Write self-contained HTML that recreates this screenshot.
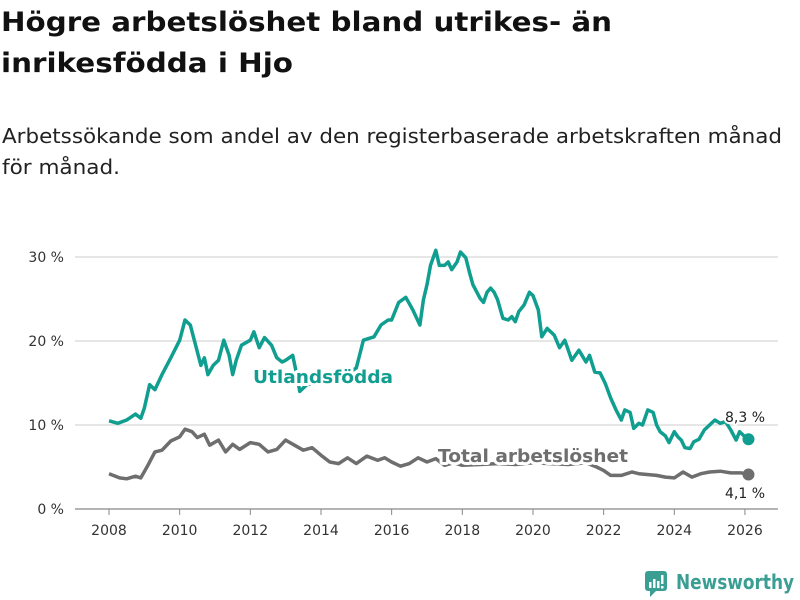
<!DOCTYPE html>
<html><head><meta charset="utf-8"><style>
html,body{margin:0;padding:0;background:#fff;width:800px;height:600px;overflow:hidden;font-family:"DejaVu Sans","Liberation Sans",sans-serif}
</style></head><body>
<svg id="chart" width="800" height="600" xmlns="http://www.w3.org/2000/svg" font-family="DejaVu Sans, Liberation Sans, sans-serif">
<text x="1" y="31" font-size="27" font-weight="bold" fill="#111" textLength="611" lengthAdjust="spacingAndGlyphs">Högre arbetslöshet bland utrikes- än</text>
<text x="1" y="72" font-size="27" font-weight="bold" fill="#111" textLength="292" lengthAdjust="spacingAndGlyphs">inrikesfödda i Hjo</text>
<text x="2" y="143" font-size="20" fill="#222" textLength="780" lengthAdjust="spacingAndGlyphs">Arbetssökande som andel av den registerbaserade arbetskraften månad</text>
<text x="2" y="174" font-size="20" fill="#222" textLength="118" lengthAdjust="spacingAndGlyphs">för månad.</text>
<g id="grid"></g><g id="lines"></g><g id="labels"></g>
<g>
<rect x="645" y="571" width="22" height="20" rx="3" fill="#3a9e93"/>
<path d="M650 591 L650 597 L656 591 Z" fill="#3a9e93"/>
<rect x="649" y="582" width="2.5" height="6" fill="#fff"/><rect x="653" y="579" width="2.5" height="9" fill="#fff"/><rect x="657" y="581" width="2.5" height="7" fill="#fff"/><rect x="661" y="575" width="2.5" height="9" fill="#fff"/><rect x="661" y="586" width="2.5" height="2.5" fill="#fff"/>
<text x="676" y="589" font-size="20" font-weight="bold" fill="#3a9e93" textLength="118" lengthAdjust="spacingAndGlyphs">Newsworthy</text>
</g>
</svg>
<script>
const yearsU=[2008,2008.25,2008.5,2008.75,2008.9,2009,2009.15,2009.3,2009.5,2009.75,2010,2010.15,2010.3,2010.45,2010.6,2010.7,2010.8,2010.95,2011.1,2011.25,2011.4,2011.5,2011.6,2011.75,2012,2012.1,2012.25,2012.4,2012.6,2012.75,2012.9,2013,2013.2,2013.3,2013.4,2013.6,2014,2014.5,2015,2015.2,2015.5,2015.7,2015.9,2016,2016.2,2016.4,2016.6,2016.8,2016.9,2017,2017.1,2017.25,2017.35,2017.5,2017.6,2017.7,2017.85,2017.95,2018.1,2018.2,2018.3,2018.5,2018.6,2018.7,2018.8,2018.9,2019,2019.15,2019.3,2019.4,2019.5,2019.6,2019.75,2019.9,2020,2020.15,2020.25,2020.4,2020.6,2020.75,2020.9,2021.1,2021.3,2021.5,2021.6,2021.75,2021.9,2022.05,2022.2,2022.35,2022.5,2022.6,2022.75,2022.85,2023,2023.1,2023.25,2023.4,2023.5,2023.6,2023.75,2023.85,2024,2024.1,2024.2,2024.3,2024.45,2024.55,2024.7,2024.85,2025,2025.15,2025.3,2025.45,2025.6,2025.75,2025.85,2026,2026.1];
const utlandsfodda=[10.5,10.2,10.6,11.3,10.8,12.0,14.8,14.2,16,18,20.1,22.5,21.9,19.5,17.1,18,16,17.1,17.7,20.1,18.3,16,17.7,19.5,20.1,21.1,19.2,20.4,19.5,18,17.5,17.7,18.3,16.3,14.0,14.8,15.1,15.4,16.8,20.1,20.5,21.9,22.5,22.5,24.6,25.2,23.7,21.9,24.9,26.7,29.0,30.8,29.0,29.0,29.4,28.5,29.4,30.6,29.9,28.2,26.7,25.1,24.6,25.8,26.3,25.8,24.9,22.7,22.5,22.9,22.3,23.5,24.3,25.8,25.4,23.7,20.5,21.5,20.7,19.2,20.1,17.7,18.9,17.5,18.3,16.3,16.2,14.9,13.2,11.8,10.6,11.8,11.5,9.6,10.2,10,11.8,11.5,10,9.2,8.7,7.9,9.2,8.6,8.2,7.3,7.2,8.0,8.3,9.4,10,10.6,10.2,10.4,9.4,8.2,9.2,8.6,8.3];
const yearsT=[2008,2008.3,2008.5,2008.75,2008.9,2009.1,2009.3,2009.5,2009.75,2010,2010.15,2010.35,2010.5,2010.7,2010.85,2011.1,2011.3,2011.5,2011.7,2012,2012.25,2012.5,2012.75,2013,2013.25,2013.5,2013.75,2014,2014.25,2014.5,2014.75,2015,2015.3,2015.6,2015.8,2016,2016.25,2016.5,2016.75,2017,2017.25,2017.5,2017.75,2018,2018.5,2019,2019.5,2020,2020.5,2021,2021.5,2021.8,2022,2022.2,2022.5,2022.8,2023,2023.5,2023.75,2024,2024.25,2024.5,2024.75,2025,2025.3,2025.6,2025.9,2026.1];
const total=[4.2,3.7,3.6,3.9,3.7,5.2,6.8,7.0,8.1,8.6,9.5,9.2,8.5,8.9,7.6,8.2,6.8,7.7,7.1,7.9,7.7,6.8,7.1,8.2,7.6,7.0,7.3,6.4,5.6,5.4,6.1,5.4,6.3,5.8,6.1,5.6,5.1,5.4,6.1,5.6,6.0,5.2,5.5,5.2,5.3,5.4,5.3,5.5,5.4,5.3,5.5,5.0,4.6,4.0,4.0,4.4,4.2,4.0,3.8,3.7,4.4,3.8,4.2,4.4,4.5,4.3,4.3,4.1];
const yTicks=[0,10,20,30];
const xTicks=[2008,2010,2012,2014,2016,2018,2020,2022,2024,2026];
const NS="http://www.w3.org/2000/svg";
const X=y=>109+(y-2008)*35.33, Y=v=>509-v*8.4;
function mk(t,a,p){const e=document.createElementNS(NS,t);for(const k in a)e.setAttribute(k,a[k]);p.appendChild(e);return e;}
const grid=document.getElementById('grid'),lines=document.getElementById('lines'),labels=document.getElementById('labels');
yTicks.forEach(v=>{
 const l=mk('line',{x1:75,x2:778,y1:Y(v),y2:Y(v),stroke:v===0?'#888':'#ddd','stroke-width':v===0?1.2:1.5},grid);
 
 
 const t=mk('text',{x:64,y:Y(v)+5,'text-anchor':'end','font-size':14,fill:'#333'},grid);t.textContent=v+' %';
 
 
});
xTicks.forEach(y=>{
 const l=mk('line',{x1:X(y),x2:X(y),y1:509,y2:515,stroke:'#888'},grid);
 
 
 const t=mk('text',{x:X(y),y:535,'text-anchor':'middle','font-size':14,fill:'#333'},grid);t.textContent=y;
 
 
});
function series(xs,vs,col,name){
 const d=xs.map((x,i)=>(i?'L':'M')+X(x).toFixed(1)+' '+Y(vs[i]).toFixed(1)).join(' ');
 const p=mk('path',{d:d,fill:'none',stroke:col,'stroke-width':3.5,'stroke-linejoin':'round'},lines);
 
 
 const n=xs.length-1;
 const c=mk('circle',{cx:X(xs[n]),cy:Y(vs[n]),r:6,fill:col},lines);
 
 
}
series(yearsT,total,'#6e6e6e','total');
series(yearsU,utlandsfodda,'#109e90','utlandsfodda');
function lab(x,y,txt,col,size,bold,name,anchor,len){
 const a={x:x,y:y,'font-size':size,fill:col,'font-weight':bold?'bold':'normal',stroke:'#fff','stroke-width':bold?6:4,'paint-order':'stroke','stroke-linejoin':'round','text-anchor':anchor||'start'};
 if(len){a.textLength=len;a.lengthAdjust='spacingAndGlyphs';}
 const t=mk('text',a,labels);
 t.textContent=txt;
 
 
}
lab(253,383,'Utlandsfödda','#109e90',18,true,'utlandsfodda-label','start',140);
lab(438,462,'Total arbetslöshet','#6e6e6e',18,true,'total-label','start',190);
lab(745,422,utlandsfodda[utlandsfodda.length-1].toFixed(1).replace('.',',')+' %','#222',14,false,'utlandsfodda-end-value','middle');
lab(745,498,total[total.length-1].toFixed(1).replace('.',',')+' %','#222',14,false,'total-end-value','middle');
</script>
</body></html>
